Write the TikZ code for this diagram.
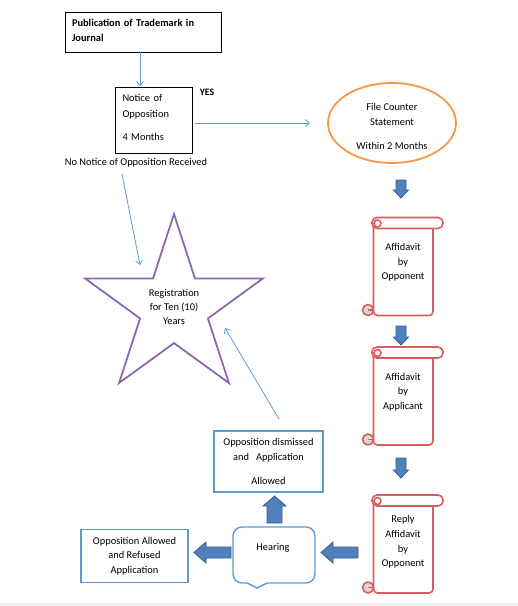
\documentclass[tikz,border=0pt]{standalone}
\usepackage{fontspec}
\setmainfont{Carlito}
\usetikzlibrary{arrows.meta,shapes.geometric}
\definecolor{blueline}{RGB}{91,155,213}
\definecolor{arrowfill}{RGB}{79,129,189}
\definecolor{arrowdraw}{RGB}{56,93,138}
\definecolor{orangeline}{RGB}{247,150,70}
\definecolor{purpleline}{RGB}{140,104,178}
\definecolor{scrollred}{RGB}{218,92,92}
\definecolor{curlgray}{RGB}{215,215,215}
\tikzset{
  blackbox/.style={draw=black, line width=1pt, inner sep=0pt, align=left},
  bluebox/.style={draw=blueline, line width=1.4pt, inner sep=0pt, align=center},
  thinarrow/.style={draw=blueline, line width=0.8pt, -{Straight Barb[length=4pt,width=7pt]}},
  blockarrow/.style={fill=arrowfill, draw=arrowdraw, line width=0.8pt, line join=miter},
  scrollline/.style={draw=scrollred, line width=1.6pt, fill=white},
  lbl/.style={inner sep=0pt, align=center},
  pics/barrow/.style n args={4}{code={
    \path[blockarrow] (0,0) -- (-#2,-#4/2) -- (-#2,-#3/2) -- (-#1,-#3/2) -- (-#1,#3/2) -- (-#2,#3/2) -- (-#2,#4/2) -- cycle;
  }},
  pics/scroll/.style={code={
    \path[scrollline, rounded corners=4pt] (1.5,8) -- (1.5,98) -- (61,98) -- (61,8);
    \path[scrollline, rounded corners=5pt] (0,0) rectangle (71,11);
    \path[scrollline] (5.5,6) circle[radius=3.5];
    \path[scrollline, fill=curlgray] (-4,92.5) circle[radius=5.5];
    \draw[scrollred, line width=1.2pt] (-4,92.5) -- (1.5,92.5);
  }}
}
\begin{document}
\begin{tikzpicture}[x=1pt,y=-1pt, font=\fontsize{10.4}{15}\selectfont]
\useasboundingbox (0,0) rectangle (518,606);
\fill[gray!12] (0,603) rectangle (518,606);

% top box
\node[blackbox, minimum width=156pt, minimum height=40pt] (pub) at (143,32) {};
\node[lbl, align=left, text width=142pt, font=\bfseries\fontsize{10.4}{15}\selectfont]
      (pubtext) at (143,30) {Publication of Trademark in\\Journal};
% notice
\node[blackbox, minimum width=77pt, minimum height=66pt] (notice) at (153.5,120) {};
\node[lbl, align=left, text width=62pt, font=\fontsize{10.4}{16}\selectfont]
      (noticetext) at (153.5,117) {Notice of\\Opposition\\[7pt]4 Months};
\node[lbl, font=\bfseries\fontsize{9.8}{12}\selectfont] (yes) at (207,92) {YES};
% ellipse
\node[ellipse, draw=orangeline, line width=1.8pt, minimum width=128pt, minimum height=80pt,
      inner sep=0pt] (counter) at (392,123) {};
\node[lbl, font=\fontsize{10.4}{15}\selectfont] (countertext) at (392,126) {File Counter\\Statement\\[9pt]Within 2 Months};
\node[lbl] (nonotice) at (136,163) {No Notice of Opposition Received};
% star
\node[star, star points=5, star point ratio=2.618, minimum size=186.8pt, inner sep=0pt,
      draw=purpleline, line width=1.8pt, align=center, font=\fontsize{10.4}{14}\selectfont]
      (reg) at (174,307.4) {Registration\\for Ten (10)\\Years};

% scrolls
\pic at (372,217.5) {scroll};
\pic at (372,347) {scroll};
\pic at (372,495) {scroll};
\node[lbl, font=\fontsize{10.4}{14.5}\selectfont] (aff1) at (403,262.5) {Affidavit\\by\\Opponent};
\node[lbl, font=\fontsize{10.4}{14.5}\selectfont] (aff2) at (403,392) {Affidavit\\by\\Applicant};
\node[lbl, font=\fontsize{10.4}{14.7}\selectfont] (reply) at (403,542) {Reply\\Affidavit\\by\\Opponent};

% bottom boxes
\node[bluebox, minimum width=109pt, minimum height=61pt, font=\fontsize{10.4}{15}\selectfont]
      (dismiss) at (268.5,461.5) {Opposition dismissed\\and\ \ \ Application\\[9pt]Allowed};
\node[bluebox, minimum width=107pt, minimum height=53pt, font=\fontsize{10.4}{14.5}\selectfont]
      (allowed) at (134.5,556) {Opposition Allowed\\and Refused\\Application};
% hearing callout
\node[draw=blueline, line width=1.4pt, rounded corners=9pt, minimum width=82pt, minimum height=56pt, fill=white]
      (hearingbox) at (274,555) {};
\fill[white] (247,581) rectangle (267,586);
\draw[blueline, line width=1.4pt, line join=miter] (247,583) -- (257,588) -- (267,583);
\node[lbl] (hearing) at (273,548) {Hearing};

% thin connectors
\coordinate (c1s) at (140,52);
\coordinate (c1e) at (140,86);
\coordinate (c2s) at (195,123);
\coordinate (c2e) at (310,123);
\coordinate (c3s) at (122,174);
\coordinate (c3e) at (140,265);
\coordinate (c4s) at (279,419);
\coordinate (c4e) at (225,328);
\draw[thinarrow] (c1s) -- (c1e);
\draw[thinarrow] (c2s) -- (c2e);
\draw[thinarrow] (c3s) -- (c3e);
\draw[thinarrow] (c4s) -- (c4e);

% block arrows
\pic[rotate=-90] at (401,198) {barrow={18}{8}{10}{15}};
\pic[rotate=-90] at (401,345) {barrow={19}{8}{10}{15}};
\pic[rotate=-90] at (401,478) {barrow={20}{8}{10}{15}};
\pic[rotate=90] at (274.5,496) {barrow={27}{10}{15}{23}};
\pic[rotate=180] at (194,552.5) {barrow={37}{12}{11}{21}};
\pic[rotate=180] at (321,552.5) {barrow={37}{12}{11}{21}};
\end{tikzpicture}
\end{document}
